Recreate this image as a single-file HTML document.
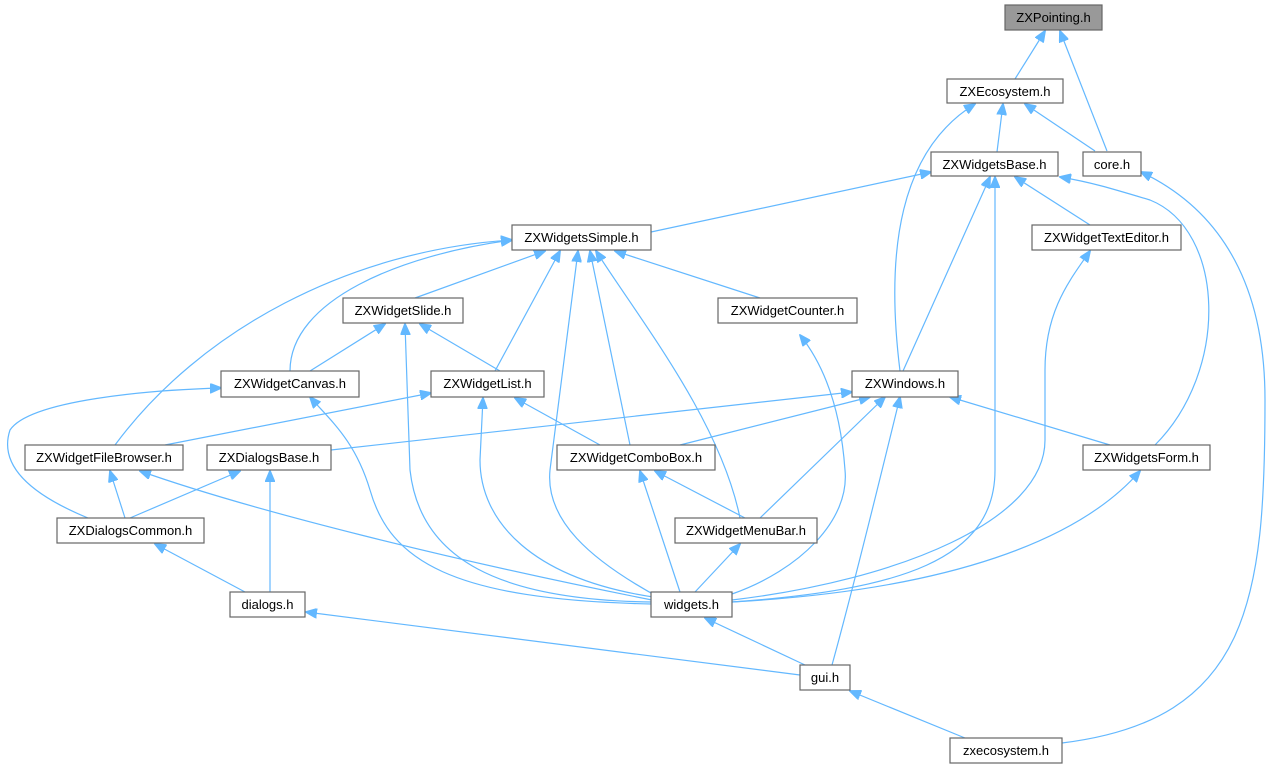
<!DOCTYPE html>
<html><head><meta charset="utf-8"><style>
html,body{margin:0;padding:0;background:#fff}
svg{display:block}
text{font-family:"Liberation Sans",Arial,sans-serif;font-size:13px;fill:#000}
.n{fill:#fff;stroke:#666;stroke-width:1.2}
.e{fill:none;stroke:#63b8ff;stroke-width:1.2}
</style></head><body>
<svg width="1275" height="769" viewBox="0 0 1275 769" xmlns="http://www.w3.org/2000/svg">
<defs><marker id="a" markerWidth="12" markerHeight="10" refX="11" refY="5" orient="auto" markerUnits="userSpaceOnUse"><path d="M0,0 L12,5 L0,10 z" fill="#63b8ff" stroke="#63b8ff"/></marker></defs>
<g class="e" marker-end="url(#a)">
<path d="M1015,79 L1045,31"/>
<path d="M1107,151 L1060,31"/>
<path d="M997,152 L1003,104"/>
<path d="M1095,151 L1025,104"/>
<path d="M900,371 C885,250 900,150 975,104"/>
<path d="M651,232 L931,172"/>
<path d="M1090,225 L1015,177"/>
<path d="M903,371 L990,177"/>
<path d="M732,602 C900,590 995,560 995,470 L995,177"/>
<path d="M1155,445 C1230,370 1225,230 1150,200 C1110,188 1090,182 1060,177"/>
<path d="M1062,743 C1250,720 1265,600 1265,400 C1265,260 1200,200 1141,172"/>
<path d="M415,298 L545,251"/>
<path d="M760,298 L615,251"/>
<path d="M290,371 C290,300 400,255 512,240"/>
<path d="M115,445 C200,330 350,250 512,240"/>
<path d="M495,371 L560,251"/>
<path d="M630,445 L590,251"/>
<path d="M740,518 C720,420 640,320 596,251"/>
<path d="M660,598 C590,560 545,520 550,470 L578,251"/>
<path d="M310,371 L385,324"/>
<path d="M500,371 L420,324"/>
<path d="M652,602 C500,600 420,560 410,470 L405,324"/>
<path d="M88,518 C20,490 0,460 10,430 C30,400 150,390 221,388"/>
<path d="M652,604 C450,600 390,560 370,490 C355,440 330,420 310,397"/>
<path d="M165,445 L431,393"/>
<path d="M600,445 L515,398"/>
<path d="M660,598 C530,580 480,520 480,460 L483,398"/>
<path d="M652,600 C450,560 250,510 140,471"/>
<path d="M732,594 C800,570 850,520 845,470 C840,400 820,360 800,335"/>
<path d="M331,450 L852,392"/>
<path d="M680,445 L870,397"/>
<path d="M760,518 L885,397"/>
<path d="M1110,445 L950,397"/>
<path d="M832,665 C850,600 870,520 900,397"/>
<path d="M130,518 L240,471"/>
<path d="M125,518 L110,471"/>
<path d="M245,592 L155,544"/>
<path d="M270,592 L270,471"/>
<path d="M680,592 L640,471"/>
<path d="M745,518 L655,471"/>
<path d="M695,592 L740,544"/>
<path d="M732,600 C900,580 1045,520 1045,440 L1045,370 C1045,310 1070,280 1090,251"/>
<path d="M732,602 C950,590 1080,540 1140,471"/>
<path d="M805,665 L705,618"/>
<path d="M800,675 L306,612"/>
<path d="M965,738 L850,691"/>
</g>
<g>
<rect class="n" x="1005" y="5" width="97" height="25" style="fill:#999"/><text x="1053.5" y="22" text-anchor="middle">ZXPointing.h</text>
<rect class="n" x="947" y="79" width="116" height="24"/><text x="1005" y="96" text-anchor="middle">ZXEcosystem.h</text>
<rect class="n" x="1083" y="152" width="58" height="24"/><text x="1112" y="169" text-anchor="middle">core.h</text>
<rect class="n" x="931" y="152" width="127" height="24"/><text x="994.5" y="169" text-anchor="middle">ZXWidgetsBase.h</text>
<rect class="n" x="512" y="225" width="139" height="25"/><text x="581.5" y="242" text-anchor="middle">ZXWidgetsSimple.h</text>
<rect class="n" x="1032" y="225" width="149" height="25"/><text x="1106.5" y="242" text-anchor="middle">ZXWidgetTextEditor.h</text>
<rect class="n" x="343" y="298" width="120" height="25"/><text x="403" y="315" text-anchor="middle">ZXWidgetSlide.h</text>
<rect class="n" x="718" y="298" width="139" height="25"/><text x="787.5" y="315" text-anchor="middle">ZXWidgetCounter.h</text>
<rect class="n" x="221" y="371" width="138" height="26"/><text x="290" y="388" text-anchor="middle">ZXWidgetCanvas.h</text>
<rect class="n" x="431" y="371" width="113" height="26"/><text x="487.5" y="388" text-anchor="middle">ZXWidgetList.h</text>
<rect class="n" x="852" y="371" width="106" height="26"/><text x="905" y="388" text-anchor="middle">ZXWindows.h</text>
<rect class="n" x="25" y="445" width="158" height="25"/><text x="104" y="462" text-anchor="middle">ZXWidgetFileBrowser.h</text>
<rect class="n" x="207" y="445" width="124" height="25"/><text x="269" y="462" text-anchor="middle">ZXDialogsBase.h</text>
<rect class="n" x="557" y="445" width="158" height="25"/><text x="636" y="462" text-anchor="middle">ZXWidgetComboBox.h</text>
<rect class="n" x="1083" y="445" width="127" height="25"/><text x="1146.5" y="462" text-anchor="middle">ZXWidgetsForm.h</text>
<rect class="n" x="57" y="518" width="147" height="25"/><text x="130.5" y="535" text-anchor="middle">ZXDialogsCommon.h</text>
<rect class="n" x="675" y="518" width="142" height="25"/><text x="746" y="535" text-anchor="middle">ZXWidgetMenuBar.h</text>
<rect class="n" x="230" y="592" width="75" height="25"/><text x="267.5" y="609" text-anchor="middle">dialogs.h</text>
<rect class="n" x="651" y="592" width="81" height="25"/><text x="691.5" y="609" text-anchor="middle">widgets.h</text>
<rect class="n" x="800" y="665" width="50" height="25"/><text x="825" y="682" text-anchor="middle">gui.h</text>
<rect class="n" x="950" y="738" width="112" height="25"/><text x="1006" y="755" text-anchor="middle">zxecosystem.h</text>
</g>
</svg>
</body></html>
